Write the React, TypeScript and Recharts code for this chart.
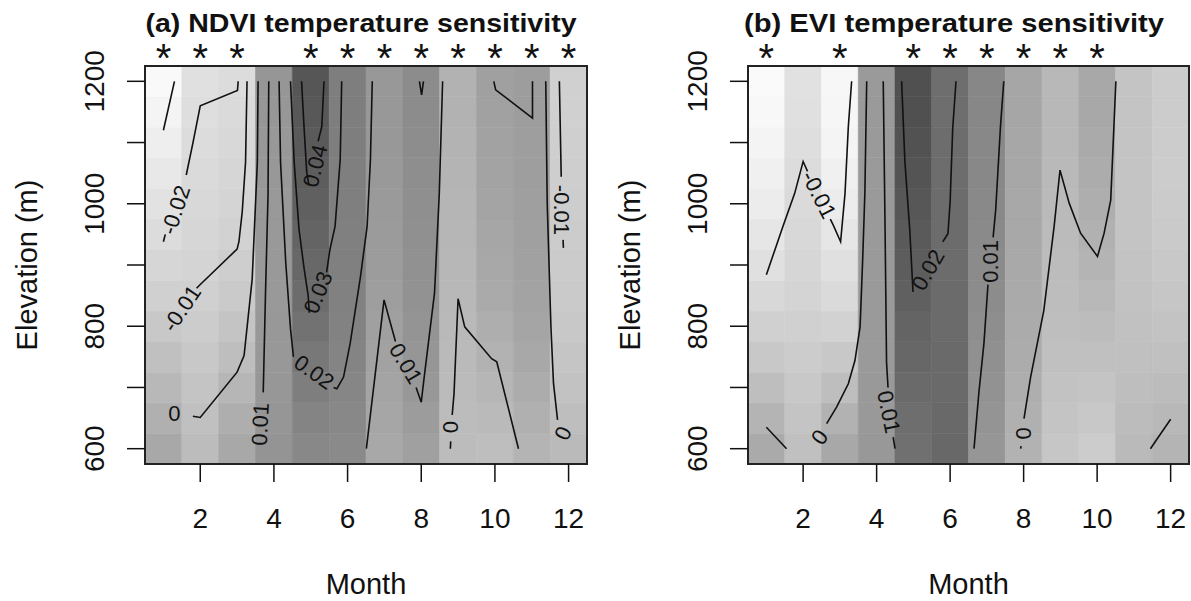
import React from "react";
import { ComposedChart, XAxis, YAxis, ReferenceArea, Scatter, Label } from "recharts";

const MONTHS = [1, 2, 3, 4, 5, 6, 7, 8, 9, 10, 11, 12];
const ELEVATIONS = [600, 650, 700, 750, 800, 850, 900, 950, 1000, 1050, 1100, 1150, 1200];
const MONTH_TICKS = [2, 4, 6, 8, 10, 12];
const ELEVATION_TICKS = [600, 700, 800, 900, 1000, 1100, 1200];
const ELEVATION_LABELS = [600, 800, 1000, 1200];

// temperature sensitivity (x 10^-3), one row per month, elevations 600 -> 1200 m
const ndviSensitivity = [
  [9.2, 5.8, 2.5, -0.8, -4.2, -7.5, -10.0, -12.5, -15.0, -17.5, -20.0, -22.5, -24.6],
  [0.8, -0.8, -2.5, -4.2, -5.8, -7.5, -9.2, -10.0, -10.8, -11.7, -12.5, -13.3, -14.2],
  [9.2, 6.7, 3.3, 0.0, -2.5, -5.0, -6.7, -8.3, -9.2, -10.0, -10.8, -11.7, -12.5],
  [17.5, 16.7, 16.3, 15.8, 15.8, 15.4, 15.4, 15.4, 15.4, 15.8, 15.8, 16.3, 16.7],
  [22.5, 24.2, 26.7, 29.2, 31.7, 34.2, 35.8, 37.5, 39.2, 40.4, 41.7, 42.5, 43.3],
  [21.7, 22.5, 23.3, 24.2, 25.0, 25.4, 25.8, 25.8, 26.3, 26.3, 26.7, 26.7, 26.7],
  [9.2, 10.0, 10.8, 11.7, 12.5, 13.3, 14.2, 14.6, 15.0, 15.4, 15.8, 15.8, 15.8],
  [12.5, 14.2, 15.8, 16.7, 17.5, 18.3, 18.8, 19.2, 19.6, 20.0, 20.4, 20.8, 20.8],
  [0.8, 0.8, 1.3, 1.7, 2.1, 2.5, 2.9, 3.3, 3.8, 4.2, 4.6, 5.0, 5.0],
  [0.0, 1.7, 3.3, 5.0, 6.7, 8.3, 9.2, 10.0, 10.8, 11.3, 11.7, 12.1, 12.5],
  [4.2, 5.8, 7.5, 9.2, 10.4, 11.3, 12.1, 12.5, 12.9, 13.3, 13.3, 13.8, 13.8],
  [1.7, 0.0, -1.7, -2.9, -4.2, -5.0, -5.4, -5.8, -6.3, -6.7, -7.1, -7.5, -7.5],
];

const eviSensitivity = [
  [1.7, -0.4, -2.5, -4.6, -6.3, -7.9, -9.6, -10.8, -12.1, -12.9, -13.8, -14.6, -15.0],
  [-2.9, -3.8, -4.6, -5.4, -6.3, -7.1, -7.5, -7.9, -8.3, -8.8, -9.2, -9.6, -9.8],
  [2.1, 0.0, -2.5, -4.6, -6.7, -8.3, -9.6, -10.8, -12.1, -12.9, -13.8, -14.2, -14.4],
  [5.4, 5.2, 5.2, 5.0, 5.0, 5.0, 5.0, 5.0, 5.0, 5.0, 5.0, 5.0, 5.0],
  [13.8, 14.2, 15.0, 15.6, 16.3, 17.1, 17.7, 18.3, 19.0, 19.6, 20.0, 20.4, 20.4],
  [15.4, 15.2, 15.0, 15.0, 14.8, 14.8, 14.6, 14.6, 14.6, 14.4, 14.4, 14.2, 14.2],
  [5.8, 6.3, 6.7, 7.1, 7.5, 7.9, 8.1, 8.3, 8.5, 8.8, 8.8, 9.0, 9.0],
  [0.0, 0.4, 0.8, 1.3, 1.5, 1.7, 1.9, 2.1, 2.1, 2.3, 2.3, 2.5, 2.5],
  [-4.2, -3.8, -3.3, -2.9, -2.5, -2.3, -2.1, -1.9, -1.7, -1.5, -1.3, -1.3, -1.3],
  [-5.4, -4.6, -3.8, -2.9, -2.1, -1.3, -0.4, 0.2, 0.8, 1.3, 1.7, 2.1, 2.1],
  [-1.7, -2.1, -2.5, -2.9, -3.1, -3.3, -3.5, -3.8, -3.8, -3.8, -3.8, -3.8, -3.8],
  [-0.4, -1.3, -2.1, -2.9, -3.5, -4.2, -4.6, -5.0, -5.2, -5.4, -5.4, -5.4, -5.4],
];

// months marked with * above each panel
const ndviStars = [1, 2, 3, 5, 6, 7, 8, 9, 10, 11, 12];
const eviStars = [1, 3, 5, 6, 7, 8, 9, 10];

type Pt = [number, number]; // [month, elevation]
type ContourLabel = { x: number; y: number; text: string; angle: number };

const ndviContours: Pt[][] = [
  [[1.3, 1200], [1.0, 1120]],
  [[3.03, 1200], [3.01, 1185], [2.0, 1160], [1.8, 1099], [1.62, 1047]],
  [[1.05, 950], [1.0, 938]],
  [[3.27, 1200], [3.23, 1068], [3.14, 987], [3.05, 938], [3.0, 926], [1.98, 867], [1.9, 862]],
  [[3.57, 1200], [3.55, 1068], [3.41, 877], [3.19, 752], [3.0, 725], [2.0, 651], [1.8, 653]],
  [[3.86, 1200], [3.84, 1014], [3.77, 850], [3.71, 692]],
  [[4.14, 1200], [4.18, 1068], [4.32, 905], [4.45, 796], [4.53, 750]],
  [[5.62, 700], [5.71, 698], [5.89, 717], [6.07, 772], [6.35, 881], [6.53, 963], [6.62, 1072], [6.67, 1200]],
  [[4.45, 1200], [4.55, 1068], [4.68, 959], [4.82, 894], [4.93, 850], [4.96, 822]],
  [[5.43, 888], [5.52, 925], [5.66, 963], [5.8, 1072], [5.84, 1200]],
  [[4.75, 1200], [4.82, 1123], [4.89, 1052], [4.95, 1030]],
  [[5.2, 1102], [5.3, 1126], [5.36, 1200]],
  [[6.51, 600], [6.99, 843], [7.3, 775]],
  [[7.86, 700], [8.0, 676], [8.08, 717], [8.36, 854], [8.49, 1017], [8.58, 1200]],
  [[7.95, 1200], [8.01, 1178], [8.06, 1200]],
  [[8.79, 600], [8.8, 612]],
  [[8.84, 655], [8.89, 690], [9.0, 845], [9.18, 799], [9.91, 747], [10.05, 742], [10.64, 600]],
  [[9.97, 1200], [10.02, 1186], [11.02, 1140], [11.02, 1200]],
  [[11.38, 1200], [11.42, 1000], [11.52, 800], [11.59, 707], [11.7, 647]],
  [[11.75, 1200], [11.8, 1044]],
  [[11.85, 941], [11.86, 928]],
];

const ndviLabels: ContourLabel[] = [
  { x: 1.33, y: 990, text: "-0.02", angle: -72 },
  { x: 1.5, y: 829, text: "-0.01", angle: -56 },
  { x: 1.3, y: 657, text: "0", angle: 0 },
  { x: 3.63, y: 640, text: "0.01", angle: -87 },
  { x: 5.12, y: 1062, text: "0.04", angle: -76 },
  { x: 5.2, y: 855, text: "0.03", angle: -68 },
  { x: 5.09, y: 725, text: "0.02", angle: 35 },
  { x: 7.58, y: 739, text: "0.01", angle: 59 },
  { x: 8.8, y: 635, text: "0", angle: 90 },
  { x: 11.85, y: 625, text: "0", angle: -65 },
  { x: 11.82, y: 990, text: "-0.01", angle: 90 },
];

const eviContours: Pt[][] = [
  [[1.0, 884], [1.45, 963], [1.77, 1017], [2.0, 1069], [2.12, 1053]],
  [[2.74, 975], [2.82, 965], [3.02, 938], [3.14, 1017], [3.23, 1126], [3.32, 1200]],
  [[3.73, 1200], [3.68, 1017], [3.62, 908], [3.55, 799], [3.41, 744], [3.23, 706], [2.91, 668], [2.64, 641]],
  [[1.0, 635], [1.55, 600]],
  [[11.45, 600], [12.0, 648]],
  [[4.18, 1200], [4.23, 959], [4.27, 741], [4.31, 700]],
  [[4.45, 619], [4.5, 600]],
  [[4.68, 1200], [4.77, 1068], [4.9, 959], [4.99, 856]],
  [[5.8, 938], [5.94, 951], [6.0, 1003], [6.07, 1123], [6.16, 1200]],
  [[7.46, 1200], [7.37, 1126], [7.24, 990], [7.17, 945]],
  [[7.03, 868], [6.92, 772], [6.78, 690], [6.65, 600]],
  [[7.92, 600], [7.93, 604]],
  [[8.01, 649], [8.19, 717], [8.55, 826], [8.83, 963], [8.99, 1055], [9.24, 1001], [9.55, 952], [10.01, 914], [10.19, 952], [10.37, 1006], [10.51, 1200]],
];

const eviLabels: ContourLabel[] = [
  { x: 2.43, y: 1015, text: "-0.01", angle: 63 },
  { x: 2.45, y: 619, text: "0", angle: -55 },
  { x: 4.33, y: 660, text: "0.01", angle: 78 },
  { x: 5.4, y: 892, text: "0.02", angle: -60 },
  { x: 7.1, y: 906, text: "0.01", angle: -90 },
  { x: 8.0, y: 625, text: "0", angle: -90 },
];

const FONT = "'Liberation Sans', Arial, Helvetica, sans-serif";
const CHART_HEIGHT = 601;
const PLOT_TOP = 66;
const PLOT_BOTTOM = 464;
const ELEV_MIN = 575;
const ELEV_MAX = 1225;

const ndviShade = (v: number) => Math.max(0, Math.min(255, Math.round(190 - 2.4 * v)));
const eviShade = (v: number) => Math.max(0, Math.min(255, Math.round(178 - 4.8 * v)));

type PanelProps = {
  left: number;
  width: number;
  axisWidth: number;
  rightMargin: number;
  title: string;
  titleX: number;
  titleWidth: number;
  grid: number[][];
  shade: (v: number) => number;
  contours: Pt[][];
  labels: ContourLabel[];
  stars: number[];
};

function Panel(p: PanelProps) {
  const plotRight = p.width - p.rightMargin;
  const centerX = (p.axisWidth + plotRight) / 2;

  const cells = MONTHS.flatMap((month, i) =>
    ELEVATIONS.map((elev, j) => {
      const g = p.shade(p.grid[i][j]);
      const color = `rgb(${g},${g},${g})`;
      return (
        <ReferenceArea
          key={`c-${month}-${elev}`}
          xAxisId="m"
          yAxisId="e"
          x1={month - 0.5}
          x2={month + 0.5}
          y1={elev - 25}
          y2={elev + 25}
          fill={color}
          fillOpacity={1}
          stroke={color}
          strokeWidth={0.6}
          ifOverflow="visible"
        />
      );
    })
  );

  const starData = p.stars.map((m) => ({ x: m, y: ELEV_MAX }));

  return (
    <div style={{ position: "absolute", left: p.left, top: 0 }}>
      <ComposedChart
        width={p.width}
        height={CHART_HEIGHT}
        margin={{ top: PLOT_TOP, right: p.rightMargin, bottom: 0, left: 0 }}
      >
        <XAxis
          xAxisId="m"
          dataKey="x"
          type="number"
          domain={[0.5, 12.5]}
          ticks={MONTH_TICKS}
          interval={0}
          height={CHART_HEIGHT - PLOT_BOTTOM}
          axisLine={false}
          tickSize={18}
          tickMargin={0}
          tickLine={{ stroke: "#111", strokeWidth: 1.5 }}
          tick={({ x, y, payload }: any) => (
            <text x={x} y={y + 46} textAnchor="middle" fontFamily={FONT} fontSize={28} fill="#111">
              {payload.value}
            </text>
          )}
        >
          <Label
            content={() => (
              <g>
                <text x={centerX} y={594} textAnchor="middle" fontFamily={FONT} fontSize={29} fill="#111">
                  Month
                </text>
                <text
                  x={p.titleX}
                  y={32}
                  textAnchor="middle"
                  fontFamily={FONT}
                  fontSize={25}
                  fontWeight="bold"
                  fill="#111"
                  textLength={p.titleWidth}
                  lengthAdjust="spacingAndGlyphs"
                >
                  {p.title}
                </text>
              </g>
            )}
          />
        </XAxis>
        <YAxis
          yAxisId="e"
          dataKey="y"
          type="number"
          domain={[ELEV_MIN, ELEV_MAX]}
          ticks={ELEVATION_TICKS}
          interval={0}
          width={p.axisWidth}
          axisLine={false}
          tickSize={18}
          tickMargin={0}
          tickLine={{ stroke: "#111", strokeWidth: 1.5 }}
          tick={({ x, y, payload }: any) =>
            ELEVATION_LABELS.includes(payload.value) ? (
              <text
                x={x - 23}
                y={y}
                transform={`rotate(-90 ${x - 23} ${y})`}
                textAnchor="middle"
                fontFamily={FONT}
                fontSize={28}
                fill="#111"
              >
                {payload.value}
              </text>
            ) : (
              <g />
            )
          }
        >
          <Label
            content={() => {
              const bx = p.axisWidth - 108;
              const cy = (PLOT_TOP + PLOT_BOTTOM) / 2;
              return (
                <text
                  x={bx}
                  y={cy}
                  transform={`rotate(-90 ${bx} ${cy})`}
                  textAnchor="middle"
                  fontFamily={FONT}
                  fontSize={29}
                  fill="#111"
                >
                  Elevation (m)
                </text>
              );
            }}
          />
        </YAxis>

        {cells}

        {p.contours.map((line, k) => (
          <Scatter
            key={`l-${k}`}
            xAxisId="m"
            yAxisId="e"
            data={line.map(([x, y]) => ({ x, y }))}
            line={{ stroke: "#111", strokeWidth: 1.6 }}
            shape={() => <g />}
            isAnimationActive={false}
          />
        ))}

        <Scatter
          xAxisId="m"
          yAxisId="e"
          data={p.labels}
          isAnimationActive={false}
          shape={(s: any) => (
            <text
              x={s.cx}
              y={s.cy}
              transform={`rotate(${s.payload.angle} ${s.cx} ${s.cy})`}
              textAnchor="middle"
              dominantBaseline="central"
              fontFamily={FONT}
              fontSize={22}
              fill="#111"
            >
              {s.payload.text}
            </text>
          )}
        />

        <Scatter
          xAxisId="m"
          yAxisId="e"
          data={starData}
          isAnimationActive={false}
          shape={(s: any) => (
            <text x={s.cx} y={s.cy + 6} textAnchor="middle" fontFamily={FONT} fontSize={40} fill="#111">
              *
            </text>
          )}
        />

        <ReferenceArea
          xAxisId="m"
          yAxisId="e"
          x1={0.5}
          x2={12.5}
          y1={ELEV_MIN}
          y2={ELEV_MAX}
          fill="none"
          stroke="#222"
          strokeWidth={2}
          ifOverflow="visible"
        />
      </ComposedChart>
    </div>
  );
}

export default function App() {
  return (
    <div style={{ position: "absolute", left: 0, top: 0, width: 1191, height: 601, background: "#fff" }}>
      <Panel
        left={0}
        width={595}
        axisWidth={145}
        rightMargin={8}
        title="(a) NDVI temperature sensitivity"
        titleX={361}
        titleWidth={431}
        grid={ndviSensitivity}
        shade={ndviShade}
        contours={ndviContours}
        labels={ndviLabels}
        stars={ndviStars}
      />
      <Panel
        left={596}
        width={595}
        axisWidth={152}
        rightMargin={2}
        title="(b) EVI temperature sensitivity"
        titleX={358}
        titleWidth={420}
        grid={eviSensitivity}
        shade={eviShade}
        contours={eviContours}
        labels={eviLabels}
        stars={eviStars}
      />
    </div>
  );
}
